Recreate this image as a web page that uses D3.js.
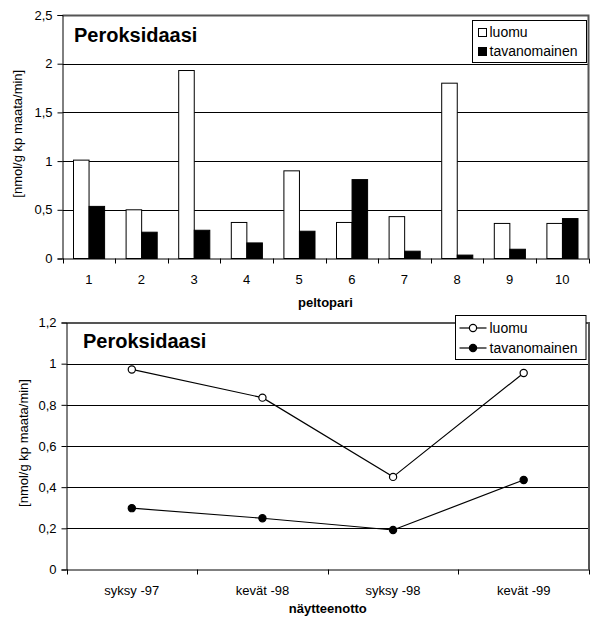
<!DOCTYPE html>
<html>
<head>
<meta charset="utf-8">
<script src="https://cdn.jsdelivr.net/npm/d3@7"></script>
<style>
  body { margin: 0; background: #fff; }
  svg { display: block; font-family: "Liberation Sans", Arial, sans-serif; }
</style>
</head>
<body>
<div id="chart"></div>
<script>
// Top chart: peroxidase per field pair
const pairs = ["1", "2", "3", "4", "5", "6", "7", "8", "9", "10"];
const luomuPairs = [1.01, 0.5, 1.93, 0.37, 0.9, 0.37, 0.43, 1.8, 0.36, 0.36];
const tavanPairs = [0.535, 0.27, 0.29, 0.16, 0.28, 0.81, 0.075, 0.035, 0.095, 0.41];
const topTicks = [0, 0.5, 1, 1.5, 2, 2.5];

// Bottom chart: peroxidase per sampling time
const samples = ["syksy -97", "kevät -98", "syksy -98", "kevät -99"];
const luomuTime = [0.972, 0.835, 0.45, 0.955];
const tavanTime = [0.298, 0.249, 0.192, 0.435];
const bottomTicks = [0, 0.2, 0.4, 0.6, 0.8, 1, 1.2];

const seriesNames = ["luomu", "tavanomainen"];
const fmt = d => String(d).replace(".", ",");

const svg = d3.select("#chart").append("svg")
    .attr("width", 591)
    .attr("height", 619);

// draws frame, grid and y axis, returns y scale
function drawFrame(box, ticks, maxVal) {
    const y = d3.scaleLinear().domain([0, maxVal]).range([box.bottom, box.top]);
    const g = svg.append("g");

    // gridlines
    g.selectAll(".grid")
        .data(ticks.filter(t => t > 0 && t < maxVal))
        .enter().append("line")
            .attr("x1", box.left).attr("x2", box.right)
            .attr("y1", d => Math.round(y(d)) + 0.5)
            .attr("y2", d => Math.round(y(d)) + 0.5)
            .attr("stroke", "#000")
            .attr("stroke-width", 1);

    // plot border top/right
    g.append("path")
        .attr("d", `M${box.left},${box.top + 0.5}H${box.right}V${box.bottom}`)
        .attr("fill", "none")
        .attr("stroke", "#555")
        .attr("stroke-width", 2);

    const axis = g.append("g")
        .attr("transform", `translate(${box.left},0)`)
        .call(d3.axisLeft(y).tickValues(ticks).tickFormat(fmt).tickSize(5).tickPadding(5));
    axis.select(".domain").attr("stroke", "#000");
    axis.selectAll("text").attr("font-size", "13px").attr("fill", "#000")
        .attr("font-family", "Liberation Sans, Arial, sans-serif");

    // title inside plot
    g.append("text")
        .attr("x", box.titleX)
        .attr("y", box.titleY)
        .attr("font-size", "20px")
        .attr("font-weight", "bold")
        .text("Peroksidaasi");

    // y label
    g.append("text")
        .attr("transform", `translate(${box.ylabX},${(box.top + box.bottom) / 2 - 3}) rotate(-90)`)
        .attr("text-anchor", "middle")
        .attr("font-size", "13px")
        .text("[nmol/g kp maata/min]");

    return y;
}

function drawXAxis(box, x, label) {
    const axis = svg.append("g")
        .attr("transform", `translate(0,${box.bottom})`)
        .call(d3.axisBottom(x).tickSize(0).tickPadding(16));
    axis.select(".domain").attr("stroke", "#000");
    axis.selectAll("text").attr("font-size", "13px").attr("fill", "#000")
        .attr("font-family", "Liberation Sans, Arial, sans-serif");

    // boundary ticks between categories
    const bounds = x.domain().map(d => x(d)).concat([x.range()[1]]);
    svg.append("g").selectAll("line")
        .data(bounds)
        .enter().append("line")
            .attr("x1", d => Math.round(d) + 0.5).attr("x2", d => Math.round(d) + 0.5)
            .attr("y1", box.bottom).attr("y2", box.bottom + 5)
            .attr("stroke", "#000");

    svg.append("text")
        .attr("x", (box.left + box.right) / 2)
        .attr("y", box.labelY)
        .attr("text-anchor", "middle")
        .attr("font-size", "13px")
        .attr("font-weight", "bold")
        .text(label);
}

// ---------- top bar chart ----------
const topBox = { left: 62.5, right: 588.5, top: 15, bottom: 258.5,
    titleX: 74, titleY: 42, ylabX: 22, labelY: 307 };
const yTop = drawFrame(topBox, topTicks, 2.5);

const xTop = d3.scaleBand().domain(pairs).range([topBox.left, topBox.right]).padding(0);
const xSeries = d3.scaleBand().domain(seriesNames)
    .range([11, xTop.bandwidth() - 10.5]).padding(0);

const barData = pairs.flatMap((p, i) => [
    { pair: p, s: "luomu", v: luomuPairs[i] },
    { pair: p, s: "tavanomainen", v: tavanPairs[i] }
]);

svg.append("g").selectAll("rect")
    .data(barData)
    .enter().append("rect")
        .attr("x", d => xTop(d.pair) + xSeries(d.s))
        .attr("y", d => yTop(d.v))
        .attr("width", xSeries.bandwidth())
        .attr("height", d => yTop(0) - yTop(d.v))
        .attr("fill", d => d.s === "luomu" ? "#fff" : "#000")
        .attr("stroke", "#000")
        .attr("stroke-width", 1);

drawXAxis(topBox, xTop, "peltopari");

// top legend
const legTop = svg.append("g").attr("transform", "translate(472.5,20.5)");
legTop.append("rect").attr("width", 114).attr("height", 42)
    .attr("fill", "#fff").attr("stroke", "#000");
seriesNames.forEach((s, i) => {
    legTop.append("rect")
        .attr("x", 6).attr("y", 8 + i * 19)
        .attr("width", 8).attr("height", 8)
        .attr("fill", s === "luomu" ? "#fff" : "#000")
        .attr("stroke", "#000");
    legTop.append("text")
        .attr("x", 17).attr("y", 16.5 + i * 19)
        .attr("font-size", "14px")
        .text(s);
});

// ---------- bottom line chart ----------
const botBox = { left: 66.5, right: 589, top: 322.5, bottom: 569.5,
    titleX: 83, titleY: 348, ylabX: 28, labelY: 613 };
const yBot = drawFrame(botBox, bottomTicks, 1.2);

const xBot = d3.scaleBand().domain(samples).range([botBox.left, botBox.right]).padding(0);
const cx = d => xBot(d) + xBot.bandwidth() / 2;

const lineGen = d3.line()
    .x(d => cx(d.k))
    .y(d => yBot(d.v));

[[luomuTime, "#fff"], [tavanTime, "#000"]].forEach(([vals, fill]) => {
    const pts = samples.map((k, i) => ({ k: k, v: vals[i] }));
    svg.append("path")
        .datum(pts)
        .attr("d", lineGen)
        .attr("fill", "none")
        .attr("stroke", "#000")
        .attr("stroke-width", 1.2);
    svg.append("g").selectAll("circle")
        .data(pts)
        .enter().append("circle")
            .attr("cx", d => cx(d.k))
            .attr("cy", d => yBot(d.v))
            .attr("r", 3.6)
            .attr("fill", fill)
            .attr("stroke", "#000")
            .attr("stroke-width", 1.2);
});

drawXAxis(botBox, xBot, "näytteenotto");

// bottom legend
const legBot = svg.append("g").attr("transform", "translate(455.5,315.5)");
legBot.append("rect").attr("width", 130.5).attr("height", 44)
    .attr("fill", "#fff").attr("stroke", "#000");
seriesNames.forEach((s, i) => {
    const ly = 12.5 + i * 20;
    legBot.append("line")
        .attr("x1", 4).attr("x2", 31)
        .attr("y1", ly).attr("y2", ly)
        .attr("stroke", "#000").attr("stroke-width", 1.2);
    legBot.append("circle")
        .attr("cx", 17.5).attr("cy", ly).attr("r", 3.6)
        .attr("fill", s === "luomu" ? "#fff" : "#000")
        .attr("stroke", "#000").attr("stroke-width", 1.2);
    legBot.append("text")
        .attr("x", 34).attr("y", ly + 4.5)
        .attr("font-size", "14px")
        .text(s);
});
</script>
</body>
</html>
